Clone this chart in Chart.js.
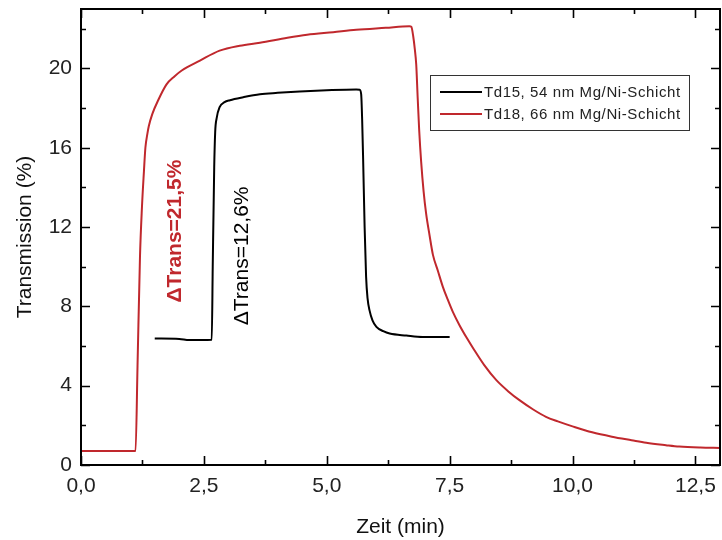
<!DOCTYPE html>
<html>
<head>
<meta charset="utf-8">
<script src="https://cdn.jsdelivr.net/npm/chart.js@4/dist/chart.umd.min.js"></script>
<style>
  html, body { margin: 0; padding: 0; background: #fff; }
  #wrap { width: 722px; height: 540px; }
</style>
</head>
<body>
<div id="wrap"><canvas id="transChart" width="722" height="540"></canvas></div>
<script>
'use strict';

// Td15, 54 nm Mg/Ni-Schicht
const td15Time = [1.5, 2.0, 2.2, 2.66, 2.68, 2.71, 2.73, 2.76, 2.82, 2.92, 3.03, 3.3, 3.64, 4.0, 4.45, 5.0, 5.6,
    5.67, 5.70, 5.72, 5.74, 5.77, 5.80, 5.83, 5.87, 5.93, 6.01, 6.15, 6.28, 6.62, 6.95, 7.5];
const td15Trans = [6.38, 6.36, 6.3, 6.32, 10, 15, 16.8, 17.5, 18.05, 18.3, 18.4, 18.55, 18.7, 18.77, 18.84, 18.9, 18.94,
    18.93, 18.7, 17.4, 15.4, 12.0, 9.5, 8.4, 7.8, 7.3, 6.97, 6.75, 6.63, 6.53, 6.46, 6.46];

// Td18, 66 nm Mg/Ni-Schicht
const td18Time = [0, 1.11, 1.15, 1.2, 1.24, 1.28, 1.31, 1.35, 1.38, 1.45, 1.57, 1.74, 1.9, 2.05, 2.42, 2.82, 3.23,
    3.64, 4.2, 4.6, 5.13, 5.6, 6.2, 6.68, 6.72, 6.76, 6.79, 6.82, 6.85, 6.88, 6.92, 6.97, 7.02, 7.09, 7.16, 7.26, 7.36,
    7.46, 7.56, 7.7, 7.85, 8.0, 8.2, 8.45, 8.7, 8.92, 9.2, 9.46, 9.7, 10.0, 10.4, 10.8, 11.2, 11.5, 11.9, 12.17, 12.6, 13.0];
const td18Trans = [0.7, 0.7, 5, 10.5, 13, 14.8, 16.0, 16.7, 17.1, 17.7, 18.4, 19.2, 19.6, 19.9, 20.4, 20.9, 21.15,
    21.3, 21.55, 21.7, 21.83, 21.95, 22.05, 22.13, 22.1, 21.6, 21.0, 20.2, 18.5, 16.9, 15.3, 13.8, 12.7, 11.6, 10.6, 9.8, 9.0,
    8.35, 7.75, 7.05, 6.4, 5.8, 5.05, 4.28, 3.7, 3.27, 2.8, 2.43, 2.2, 1.95, 1.65, 1.43, 1.25, 1.12, 1.0, 0.93, 0.88, 0.86];

const seriesLabels = ['Td15, 54 nm Mg/Ni-Schicht', 'Td18, 66 nm Mg/Ni-Schicht'];

const xTicks = [0, 2.5, 5, 7.5, 10, 12.5];
const xMinorTicks = [1.25, 3.75, 6.25, 8.75, 11.25];
const yTicks = [0, 4, 8, 12, 16, 20];
const yMinorTicks = [2, 6, 10, 14, 18, 22];

// Beschriftungen an den Kurven
const annotations = [
    { text: 'ΔTrans=21,5%', x: 1.91, y: 11.8, color: '#c0282d', bold: true },
    { text: 'ΔTrans=12,6%', x: 3.28, y: 10.55, color: '#000', bold: false },
];

const FONT = "'Liberation Sans', Arial, sans-serif";
const RED = '#c0282d';

const toPoints = (xs, ys) => xs.map((v, i) => ({ x: v, y: ys[i] }));

// Rahmen mit nach innen zeigenden Ticks auf allen vier Seiten
const frameTicks = {
    id: 'frameTicks',
    afterDatasetsDraw(chart) {
        const { ctx, chartArea: a, scales: { x, y } } = chart;
        ctx.save();
        ctx.strokeStyle = '#000';
        ctx.lineWidth = 1.6;
        ctx.beginPath();
        const hTick = (vals, len) => vals.forEach(v => {
            const px = Math.round(x.getPixelForValue(v)) + 0.5;
            ctx.moveTo(px, a.bottom); ctx.lineTo(px, a.bottom - len);
            ctx.moveTo(px, a.top); ctx.lineTo(px, a.top + len);
        });
        const vTick = (vals, len) => vals.forEach(v => {
            const py = Math.round(y.getPixelForValue(v)) + 0.5;
            ctx.moveTo(a.left, py); ctx.lineTo(a.left + len, py);
            ctx.moveTo(a.right, py); ctx.lineTo(a.right - len, py);
        });
        hTick(xTicks, 9);
        hTick(xMinorTicks, 5);
        vTick(yTicks, 9);
        vTick(yMinorTicks, 5);
        ctx.stroke();
        ctx.lineWidth = 2;
        ctx.strokeRect(a.left, a.top, a.right - a.left, a.bottom - a.top);
        ctx.restore();
    }
};

const labelsPlugin = {
    id: 'labelsPlugin',
    afterDraw(chart) {
        const { ctx, scales: { x, y } } = chart;
        ctx.save();

        annotations.forEach(an => {
            ctx.save();
            ctx.translate(x.getPixelForValue(an.x), y.getPixelForValue(an.y));
            ctx.rotate(-Math.PI / 2);
            ctx.font = (an.bold ? 'bold ' : '') + '21px ' + FONT;
            ctx.fillStyle = an.color;
            ctx.textAlign = 'center';
            ctx.textBaseline = 'middle';
            ctx.fillText(an.text, 0, 0);
            ctx.restore();
        });

        // Legende
        const box = { left: 430, top: 75, right: 689, bottom: 130 };
        ctx.fillStyle = '#fff';
        ctx.fillRect(box.left, box.top, box.right - box.left, box.bottom - box.top);
        ctx.strokeStyle = '#333';
        ctx.lineWidth = 1;
        ctx.strokeRect(box.left + 0.5, box.top + 0.5, box.right - box.left, box.bottom - box.top);
        ctx.font = '15px ' + FONT;
        ctx.letterSpacing = '0.6px';
        ctx.textAlign = 'left';
        ctx.textBaseline = 'middle';
        chart.data.datasets.forEach((ds, i) => {
            const ly = box.top + 17 + i * 22;
            ctx.strokeStyle = ds.borderColor;
            ctx.lineWidth = 2;
            ctx.beginPath();
            ctx.moveTo(440, ly);
            ctx.lineTo(482, ly);
            ctx.stroke();
            ctx.fillStyle = '#222';
            ctx.fillText(ds.label, 484, ly + 1);
        });
        ctx.restore();
    }
};

const fmtComma = v => v.toFixed(1).replace('.', ',');

new Chart(document.getElementById('transChart'), {
    type: 'scatter',
    data: {
        datasets: [{
            label: seriesLabels[0],
            data: toPoints(td15Time, td15Trans),
            borderColor: '#000',
            borderWidth: 2,
            showLine: true,
            pointRadius: 0,
            cubicInterpolationMode: 'monotone',
        }, {
            label: seriesLabels[1],
            data: toPoints(td18Time, td18Trans),
            borderColor: RED,
            borderWidth: 2,
            showLine: true,
            pointRadius: 0,
            cubicInterpolationMode: 'monotone',
        }]
    },
    options: {
        responsive: false,
        animation: false,
        layout: { padding: { top: 9, right: 2, left: 0, bottom: 0 } },
        plugins: {
            legend: { display: false },
            tooltip: { enabled: false },
        },
        scales: {
            x: {
                type: 'linear',
                min: 0,
                max: 13,
                afterBuildTicks: s => { s.ticks = xTicks.map(v => ({ value: v })); },
                afterFit: s => { s.height = 75; s.paddingLeft = 0; s.paddingRight = 0; },
                grid: { display: false, drawTicks: false },
                border: { display: false },
                ticks: {
                    padding: 9,
                    color: '#222',
                    maxRotation: 0,
                    font: { family: FONT, size: 21 },
                    callback: v => fmtComma(v),
                },
                title: {
                    display: true,
                    text: 'Zeit (min)',
                    color: '#111',
                    font: { family: FONT, size: 21 },
                    padding: { top: 0, bottom: 0 },
                },
            },
            y: {
                min: 0,
                max: 23,
                afterBuildTicks: s => { s.ticks = yTicks.map(v => ({ value: v })); },
                afterFit: s => { s.width = 81; s.paddingTop = 0; s.paddingBottom = 0; },
                grid: { display: false, drawTicks: false },
                border: { display: false },
                ticks: {
                    padding: 9,
                    color: '#222',
                    font: { family: FONT, size: 21 },
                    callback: v => String(v),
                },
                title: {
                    display: true,
                    text: 'Transmission (%)',
                    color: '#111',
                    font: { family: FONT, size: 21 },
                    padding: { top: 13, bottom: 0 },
                },
            }
        }
    },
    plugins: [frameTicks, labelsPlugin]
});
</script>
</body>
</html>
